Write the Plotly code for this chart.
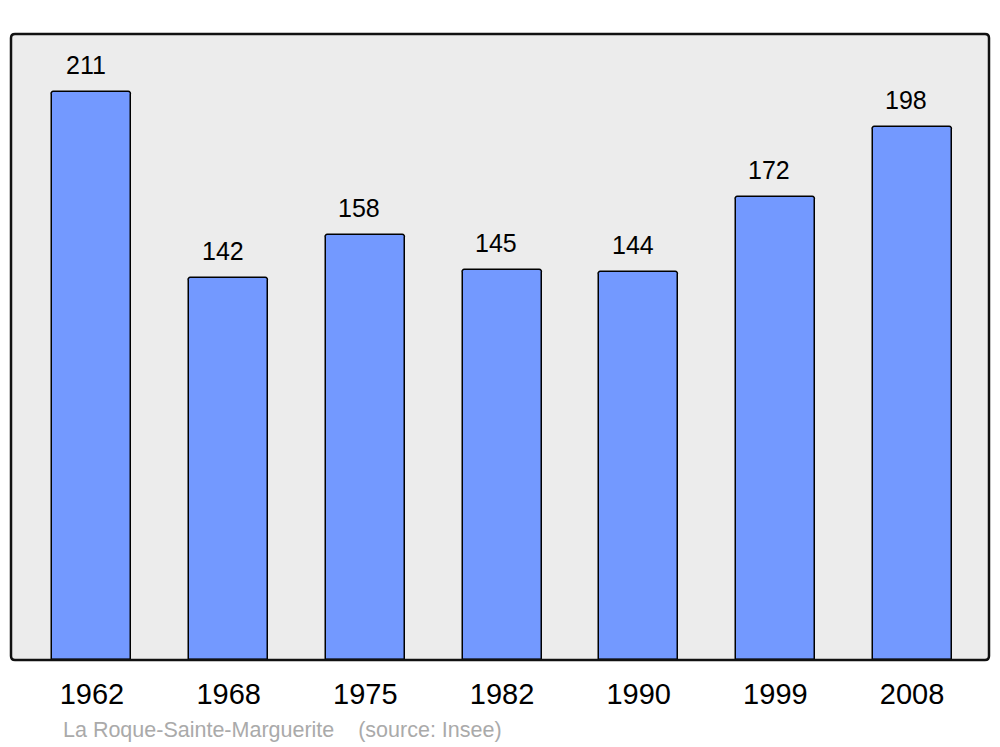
import plotly.graph_objects as go

# population by census year
years = ["1962", "1968", "1975", "1982", "1990", "1999", "2008"]
population = [211, 142, 158, 145, 144, 172, 198]

caption = "La Roque-Sainte-Marguerite    (source: Insee)"

x_pos = list(range(len(years)))

fig = go.Figure()
fig.add_trace(go.Bar(
    x=x_pos, y=population,
    width=0.578,
    marker=dict(color="#7399FF", line=dict(color="#000000", width=1.5), cornerradius=3),
    hoverinfo="skip",
))

for x, v in zip(x_pos, population):
    fig.add_annotation(
        x=x, y=v, text=str(v), showarrow=False,
        yanchor="bottom", yshift=11, xshift=-6,
        font=dict(family="Liberation Sans, Arial, sans-serif", size=25, color="#000000"),
    )

fig.add_annotation(
    xref="paper", yref="paper", x=0.051, y=-0.112,
    xanchor="left", yanchor="middle", showarrow=False,
    text=caption,
    font=dict(family="Liberation Sans, Arial, sans-serif", size=21.5, color="#AAAAAA"),
)

# rounded frame round the plot area (radius ~4px)
rx, ry = 4 / 978, 4 / 626
frame = (
    f"M {rx},0 L {1 - rx},0 Q 1,0 1,{ry} L 1,{1 - ry} Q 1,1 {1 - rx},1 "
    f"L {rx},1 Q 0,1 0,{1 - ry} L 0,{ry} Q 0,0 {rx},0 Z"
)
fig.add_shape(
    type="path", xref="paper", yref="paper", path=frame,
    line=dict(color="#111111", width=2.5), layer="above",
)

fig.update_layout(
    width=1000, height=747,
    margin=dict(l=11, r=11, t=34, b=87),
    paper_bgcolor="#FFFFFF",
    plot_bgcolor="#ECECEC",
    showlegend=False,
    bargap=0,
    font=dict(family="Liberation Sans, Arial, sans-serif"),
)
fig.update_xaxes(
    range=[-0.5925, 6.563],
    tickmode="array", tickvals=x_pos, ticktext=years,
    tickfont=dict(size=29, color="#000000"),
    showgrid=False, zeroline=False, ticks="", ticklabelstandoff=14,
)
fig.update_yaxes(
    range=[0, 232.5], visible=False, showgrid=False, zeroline=False,
)

fig.write_html(
    "out.html",
    config={"displayModeBar": False},
    post_script="document.body.style.margin='0';document.body.style.overflow='hidden';",
)
